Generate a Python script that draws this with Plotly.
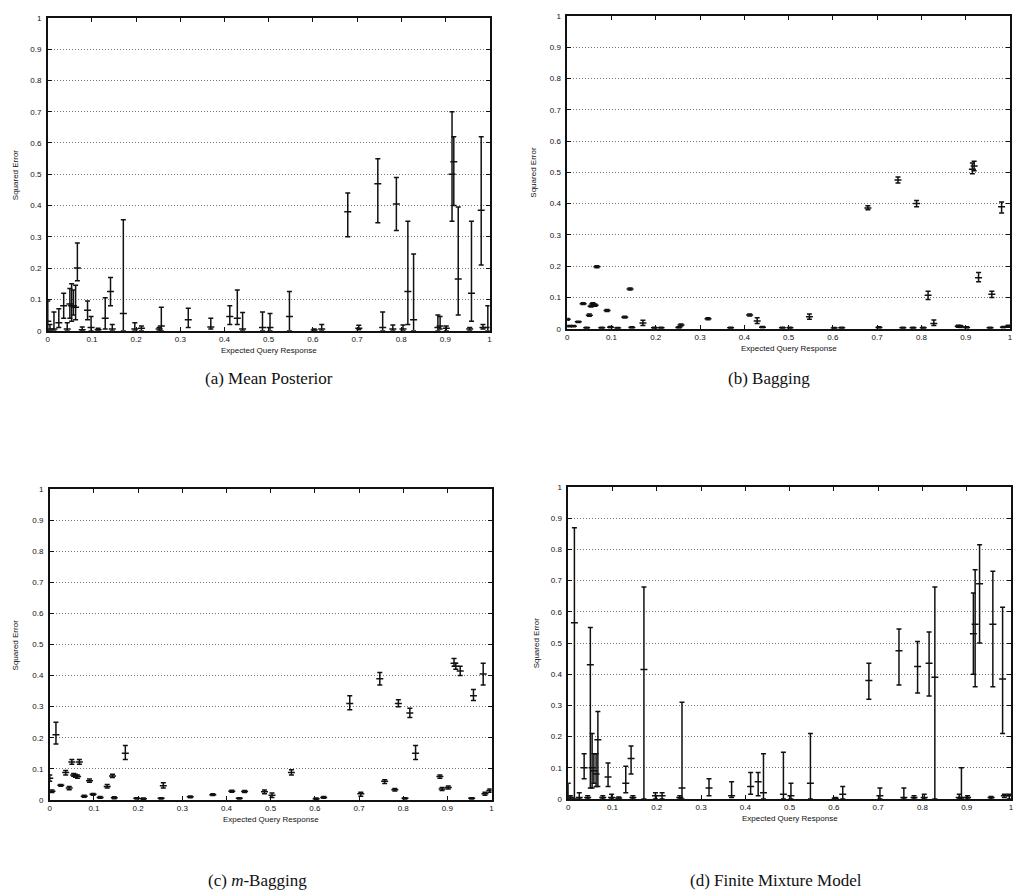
import plotly.graph_objects as go

W, H = 1016, 896

# Shared query positions (Expected Query Response)
x_query = [0.0, 0.005, 0.014, 0.025, 0.036, 0.044, 0.050, 0.054, 0.058, 0.063,
           0.067, 0.078, 0.090, 0.098, 0.114, 0.130, 0.142, 0.146, 0.171, 0.197,
           0.212, 0.252, 0.257, 0.318, 0.369, 0.412, 0.429, 0.441, 0.486, 0.503,
           0.547, 0.603, 0.620, 0.679, 0.704, 0.747, 0.758, 0.781, 0.789, 0.804,
           0.815, 0.828, 0.883, 0.888, 0.902, 0.915, 0.919, 0.929, 0.955, 0.959,
           0.981, 0.985, 0.996]

# (a) Mean Posterior: mean, lower, upper
a_mean = [0.03, 0.005, 0.005, 0.025, 0.08, 0.005, 0.085, 0.08, 0.08, 0.075,
          0.2, 0.003, 0.065, 0.01, 0.003, 0.04, 0.125, 0.005, 0.055, 0.005,
          0.008, 0.005, 0.015, 0.035, 0.012, 0.045, 0.04, 0.005, 0.01, 0.01,
          0.045, 0.002, 0.005, 0.38, 0.008, 0.47, 0.01, 0.005, 0.405, 0.005,
          0.125, 0.035, 0.01, 0.015, 0.008, 0.5, 0.54, 0.165, 0.005, 0.12,
          0.385, 0.01, 0.01]
a_lo = [0.0, 0.0, 0.0, 0.01, 0.04, 0.0, 0.04, 0.03, 0.05, 0.035,
        0.16, 0.0, 0.035, 0.0, 0.0, 0.005, 0.08, 0.0, 0.0, 0.0,
        0.0, 0.0, 0.0, 0.01, 0.005, 0.02, 0.02, 0.0, 0.0, 0.0,
        0.0, 0.0, 0.0, 0.30, 0.003, 0.345, 0.0, 0.0, 0.32, 0.0,
        0.02, 0.0, 0.0, 0.005, 0.0, 0.35, 0.40, 0.05, 0.0, 0.03,
        0.21, 0.005, 0.0]
a_hi = [0.095, 0.02, 0.06, 0.07, 0.12, 0.025, 0.135, 0.15, 0.13, 0.145,
        0.28, 0.012, 0.095, 0.045, 0.008, 0.105, 0.17, 0.02, 0.355, 0.025,
        0.015, 0.01, 0.075, 0.072, 0.04, 0.08, 0.13, 0.058, 0.06, 0.055,
        0.125, 0.005, 0.02, 0.44, 0.017, 0.55, 0.06, 0.018, 0.49, 0.018,
        0.35, 0.245, 0.05, 0.045, 0.015, 0.70, 0.62, 0.395, 0.01, 0.35,
        0.62, 0.02, 0.08]

# (b) Bagging
b_mean = [0.03, 0.008, 0.008, 0.022, 0.08, 0.003, 0.043, 0.072, 0.08, 0.075,
          0.198, 0.003, 0.058, 0.005, 0.002, 0.037, 0.127, 0.004, 0.018, 0.003,
          0.003, 0.004, 0.012, 0.032, 0.003, 0.044, 0.025, 0.005, 0.003, 0.003,
          0.038, 0.002, 0.003, 0.386, 0.004, 0.475, 0.003, 0.003, 0.40, 0.003,
          0.107, 0.017, 0.008, 0.007, 0.004, 0.51, 0.52, 0.163, 0.003, 0.11,
          0.39, 0.005, 0.008]
b_lo = [0.027, 0.006, 0.006, 0.02, 0.077, 0.001, 0.04, 0.069, 0.077, 0.072,
        0.195, 0.001, 0.055, 0.003, 0.0, 0.034, 0.124, 0.002, 0.01, 0.001,
        0.001, 0.002, 0.009, 0.029, 0.001, 0.041, 0.017, 0.003, 0.001, 0.001,
        0.03, 0.0, 0.001, 0.38, 0.002, 0.466, 0.001, 0.001, 0.39, 0.001,
        0.093, 0.01, 0.005, 0.004, 0.002, 0.495, 0.505, 0.15, 0.001, 0.10,
        0.37, 0.003, 0.005]
b_hi = [0.033, 0.01, 0.01, 0.024, 0.083, 0.005, 0.047, 0.075, 0.083, 0.078,
        0.201, 0.005, 0.061, 0.007, 0.004, 0.04, 0.13, 0.006, 0.027, 0.005,
        0.005, 0.006, 0.015, 0.035, 0.005, 0.047, 0.035, 0.007, 0.005, 0.005,
        0.047, 0.004, 0.005, 0.393, 0.006, 0.485, 0.005, 0.005, 0.41, 0.005,
        0.12, 0.028, 0.011, 0.01, 0.006, 0.53, 0.535, 0.18, 0.005, 0.12,
        0.405, 0.007, 0.011]

# (c) m-Bagging
c_mean = [0.07, 0.028, 0.21, 0.047, 0.088, 0.038, 0.122, 0.08, 0.078, 0.075,
          0.122, 0.012, 0.062, 0.018, 0.008, 0.043, 0.077, 0.007, 0.15, 0.005,
          0.004, 0.005, 0.046, 0.01, 0.017, 0.028, 0.005, 0.027, 0.026, 0.015,
          0.088, 0.004, 0.008, 0.31, 0.02, 0.39, 0.06, 0.033, 0.31, 0.005,
          0.28, 0.15, 0.075, 0.035, 0.04, 0.44, 0.43, 0.415, 0.005, 0.335,
          0.405, 0.02, 0.03]
c_lo = [0.06, 0.024, 0.18, 0.044, 0.08, 0.033, 0.115, 0.076, 0.073, 0.07,
        0.115, 0.009, 0.057, 0.015, 0.005, 0.038, 0.072, 0.004, 0.13, 0.003,
        0.002, 0.003, 0.038, 0.007, 0.014, 0.025, 0.003, 0.024, 0.02, 0.008,
        0.08, 0.002, 0.005, 0.29, 0.012, 0.37, 0.053, 0.029, 0.30, 0.003,
        0.265, 0.13, 0.07, 0.03, 0.035, 0.43, 0.42, 0.40, 0.003, 0.32,
        0.37, 0.015, 0.025]
c_hi = [0.08, 0.032, 0.25, 0.05, 0.095, 0.043, 0.13, 0.085, 0.083, 0.08,
        0.13, 0.015, 0.067, 0.021, 0.011, 0.05, 0.083, 0.01, 0.175, 0.007,
        0.006, 0.007, 0.055, 0.013, 0.02, 0.031, 0.007, 0.03, 0.032, 0.022,
        0.097, 0.006, 0.011, 0.335, 0.025, 0.41, 0.065, 0.037, 0.322, 0.007,
        0.295, 0.175, 0.08, 0.04, 0.045, 0.455, 0.44, 0.43, 0.007, 0.355,
        0.44, 0.025, 0.035]

# (d) Finite Mixture Model
d_mean = [0.01, 0.005, 0.565, 0.005, 0.1, 0.005, 0.43, 0.1, 0.09, 0.08,
          0.19, 0.005, 0.07, 0.005, 0.003, 0.05, 0.13, 0.005, 0.415, 0.01,
          0.01, 0.005, 0.035, 0.035, 0.01, 0.04, 0.055, 0.02, 0.015, 0.01,
          0.05, 0.002, 0.015, 0.38, 0.01, 0.475, 0.005, 0.005, 0.425, 0.005,
          0.435, 0.39, 0.005, 0.005, 0.005, 0.53, 0.56, 0.69, 0.005, 0.56,
          0.385, 0.01, 0.01]
d_lo = [0.0, 0.0, 0.0, 0.0, 0.065, 0.0, 0.035, 0.035, 0.05, 0.04,
        0.04, 0.0, 0.04, 0.0, 0.0, 0.02, 0.08, 0.0, 0.0, 0.0,
        0.0, 0.0, 0.0, 0.01, 0.005, 0.015, 0.01, 0.0, 0.0, 0.0,
        0.0, 0.0, 0.0, 0.32, 0.0, 0.365, 0.0, 0.0, 0.34, 0.0,
        0.33, 0.0, 0.0, 0.0, 0.0, 0.40, 0.36, 0.50, 0.0, 0.36,
        0.21, 0.005, 0.0]
d_hi = [0.05, 0.01, 0.87, 0.02, 0.145, 0.01, 0.55, 0.21, 0.145, 0.145,
        0.28, 0.01, 0.115, 0.015, 0.006, 0.105, 0.17, 0.01, 0.68, 0.02,
        0.02, 0.01, 0.31, 0.065, 0.055, 0.085, 0.085, 0.145, 0.15, 0.05,
        0.21, 0.005, 0.04, 0.435, 0.035, 0.545, 0.035, 0.01, 0.505, 0.015,
        0.535, 0.68, 0.015, 0.10, 0.01, 0.66, 0.735, 0.815, 0.008, 0.73,
        0.615, 0.015, 0.015]

tick_vals = [0, 0.1, 0.2, 0.3, 0.4, 0.5, 0.6, 0.7, 0.8, 0.9, 1]
tick_text = ["0", "0.1", "0.2", "0.3", "0.4", "0.5", "0.6", "0.7", "0.8", "0.9", "1"]

captions = ["(a) Mean Posterior", "(b) Bagging",
            "(c) <i>m</i>-Bagging", "(d) Finite Mixture Model"]
x_title = "Expected Query Response"
y_title = "Squared Error"

# Panel frames in pixels: left, right, top, bottom
frames = [(46, 490, 14, 330), (568, 1013, 12, 328),
          (48, 492, 490, 804), (569, 1014, 488, 803)]
caption_pos = [(268, 378), (771, 378), (257, 885), (778, 885)]
ytitle_px = [13, 534, 14, 537]

series = [(a_mean, a_lo, a_hi), (b_mean, b_lo, b_hi),
          (c_mean, c_lo, c_hi), (d_mean, d_lo, d_hi)]

fig = go.Figure()
layout = dict(width=W, height=H, margin=dict(l=0, r=0, t=0, b=0),
              paper_bgcolor="white", plot_bgcolor="white", showlegend=False,
              font=dict(family="Liberation Sans, Arial, sans-serif", size=8, color="#111"))
annotations = []

for i, ((mean, lo, hi), (l, r, t, b)) in enumerate(zip(series, frames)):
    n = "" if i == 0 else str(i + 1)
    plus = [h - m for h, m in zip(hi, mean)]
    minus = [m - q for m, q in zip(mean, lo)]
    fig.add_trace(go.Scatter(
        x=x_query, y=mean, mode="markers", xaxis="x" + n, yaxis="y" + n,
        marker=dict(symbol="line-ew", size=5, line=dict(width=1.5, color="#111")),
        error_y=dict(type="data", symmetric=False, array=plus, arrayminus=minus,
                     width=2.5, thickness=1.5, color="#111"),
        hoverinfo="x+y"))
    xdom = [l / W, r / W]
    ydom = [1 - b / H, 1 - t / H]
    layout["xaxis" + n] = dict(domain=xdom, range=[0, 1], anchor="y" + n,
                               tickvals=tick_vals, ticktext=tick_text,
                               ticks="inside", ticklen=4, tickcolor="#111",
                               showgrid=False, zeroline=False,
                               showline=True, linecolor="#111", linewidth=1.5,
                               mirror="ticks", tickfont=dict(size=8))
    layout["yaxis" + n] = dict(domain=ydom, range=[0, 1], anchor="x" + n,
                               tickvals=tick_vals, ticktext=tick_text,
                               ticks="inside", ticklen=4, tickcolor="#111",
                               showgrid=True, gridcolor="#777", griddash="1px,2px",
                               gridwidth=1, zeroline=False,
                               showline=True, linecolor="#111", linewidth=1.5,
                               mirror="ticks", tickfont=dict(size=8),
                               ticklabelstandoff=3)
    cx = (l + r) / 2
    annotations.append(dict(text=x_title, x=cx / W, y=1 - (b + 20) / H,
                            xref="paper", yref="paper", showarrow=False,
                            xanchor="center", yanchor="middle",
                            font=dict(size=8, color="#111")))
    annotations.append(dict(text=y_title, x=ytitle_px[i] / W, y=1 - ((t + b) / 2) / H,
                            xref="paper", yref="paper", showarrow=False, textangle=-90,
                            xanchor="center", yanchor="middle",
                            font=dict(size=8, color="#111")))
    cxp, cyp = caption_pos[i]
    annotations.append(dict(text=captions[i], x=cxp / W, y=1 - cyp / H,
                            xref="paper", yref="paper", showarrow=False,
                            xanchor="center", yanchor="middle",
                            font=dict(family="Liberation Serif, Times New Roman, serif",
                                      size=17, color="#111")))

layout["annotations"] = annotations
fig.update_layout(**layout)
fig.write_html("out.html")
